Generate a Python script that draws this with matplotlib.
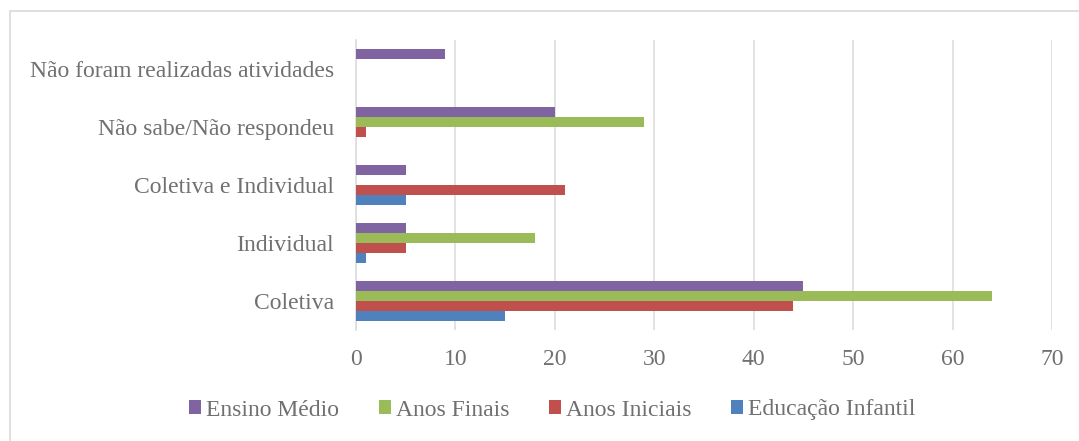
import matplotlib.pyplot as plt
import numpy as np
from matplotlib.patches import Rectangle

# survey answers per school stage
categorias = ["Coletiva", "Individual", "Coletiva e Individual",
              "Não sabe/Não respondeu", "Não foram realizadas atividades"]
educacao_infantil = [15, 1, 5, 0, 0]
anos_iniciais = [44, 5, 21, 1, 0]
anos_finais = [64, 18, 0, 29, 0]
ensino_medio = [45, 5, 5, 20, 9]

series = [
    ("Educação Infantil", educacao_infantil, "#4F81BD"),
    ("Anos Iniciais", anos_iniciais, "#C0504D"),
    ("Anos Finais", anos_finais, "#9BBB59"),
    ("Ensino Médio", ensino_medio, "#8064A2"),
]

plt.rcParams['font.family'] = ['Liberation Serif', 'DejaVu Serif']
cinza = "#707070"

fig = plt.figure(figsize=(10.79, 4.41), dpi=100)
ax = fig.add_axes([356 / 1079, 1 - 330 / 441, (1052 - 356) / 1079, (330 - 40) / 441])

# outer chart border
fig.patches.append(Rectangle((10 / 1079, -0.1), 1.2, 1 - 11 / 441 + 0.1,
                             transform=fig.transFigure, fill=False,
                             edgecolor="#D9D9D9", linewidth=1.2))

y = np.arange(len(categorias))
h = 0.171
for i, (nome, vals, cor) in enumerate(series):
    ax.barh(y + (i - 1.5) * h, vals, height=h, color=cor, label=nome, zorder=3)

ax.set_xlim(0, 70)
ax.set_ylim(-0.5, len(categorias) - 0.5)
ax.set_xticks(range(0, 71, 10))
ax.set_yticks(y)
ax.set_yticklabels(categorias)
ax.tick_params(axis='both', length=0, labelsize=17, colors=cinza)
ax.tick_params(axis='x', pad=14)
ax.tick_params(axis='y', pad=16)
ax.grid(axis='x', color="#DDDDDD", linewidth=1.2, zorder=0)
for s in ["top", "right", "bottom"]:
    ax.spines[s].set_visible(False)
ax.spines["left"].set_color("#DDDDDD")
ax.spines["left"].set_linewidth(1.2)

handles, labels = ax.get_legend_handles_labels()
fig.legend(handles[::-1], labels[::-1], loc='center', bbox_to_anchor=(0.512, 1 - 410 / 441),
           ncol=4, frameon=False, fontsize=17, labelcolor=cinza,
           handlelength=0.5, handleheight=0.5, handletextpad=0.2, columnspacing=1.7)

fig.savefig("out.png", dpi=100)
